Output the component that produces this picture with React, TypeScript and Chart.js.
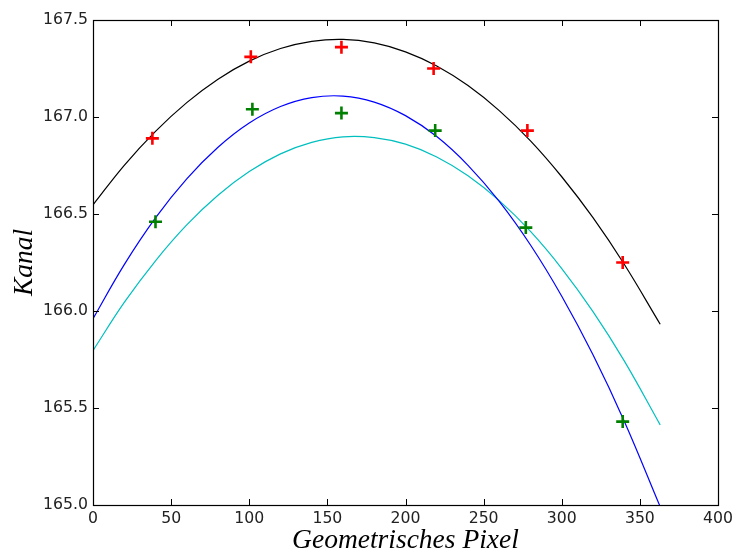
import React, { useEffect, useRef } from 'react';
import { Chart, registerables } from 'chart.js';

Chart.register(...registerables);

// Measured points (red and green crosses)
const redX = [38, 101, 159, 218, 278, 339];
const redY = [166.89, 167.31, 167.36, 167.25, 166.93, 166.25];
const greenX = [40, 102, 159, 219, 277, 339];
const greenY = [166.46, 167.04, 167.02, 166.93, 166.43, 165.43];

// Fitted curves
const curveX = [0, 20, 40, 60, 80, 100, 120, 140, 160, 180, 200, 220, 240, 260, 280, 300, 320, 340, 363];
const blackCurve = [166.547, 166.751, 166.926, 167.074, 167.195, 167.288, 167.353, 167.39, 167.4, 167.382, 167.336, 167.263, 167.162, 167.033, 166.877, 166.692, 166.481, 166.241, 165.932];
const blueCurve = [165.96, 166.239, 166.48, 166.681, 166.844, 166.969, 167.054, 167.1, 167.108, 167.077, 167.007, 166.899, 166.751, 166.565, 166.34, 166.076, 165.774, 165.432, 164.991];
const cyanCurve = [165.796, 166.044, 166.259, 166.444, 166.597, 166.719, 166.81, 166.869, 166.898, 166.894, 166.86, 166.794, 166.697, 166.569, 166.41, 166.219, 165.997, 165.743, 165.413];

const xTicks = [0, 50, 100, 150, 200, 250, 300, 350, 400];
const yTicks = [165.0, 165.5, 166.0, 166.5, 167.0, 167.5];

const xTitle = 'Geometrisches Pixel';
const yTitle = 'Kanal';

const toPts = (xs: number[], ys: number[]) => xs.map((x, i) => ({ x, y: ys[i] }));

const frameTicks = {
  id: 'frameTicks',
  afterDatasetsDraw(chart: any) {
    const { ctx, chartArea, scales } = chart;
    const { left, right, top, bottom } = chartArea;
    const len = 6;
    ctx.save();
    ctx.strokeStyle = '#000';
    ctx.lineWidth = 1;
    ctx.beginPath();
    for (const v of xTicks) {
      const px = Math.round(scales.x.getPixelForValue(v)) + 0.5;
      ctx.moveTo(px, bottom);
      ctx.lineTo(px, bottom - len);
      ctx.moveTo(px, top);
      ctx.lineTo(px, top + len);
    }
    for (const v of yTicks) {
      const py = Math.round(scales.y.getPixelForValue(v)) + 0.5;
      ctx.moveTo(left, py);
      ctx.lineTo(left + len, py);
      ctx.moveTo(right, py);
      ctx.lineTo(right - len, py);
    }
    ctx.stroke();
    ctx.lineWidth = 1.2;
    ctx.strokeRect(Math.round(left) + 0.5, Math.round(top) + 0.5, Math.round(right - left), Math.round(bottom - top));
    ctx.restore();
  },
};

export default function App() {
  const ref = useRef<HTMLCanvasElement>(null);
  useEffect(() => {
    document.body.style.margin = '0';
    const canvas = ref.current;
    if (!canvas) return;
    const tickFont = { family: 'DejaVu Sans', size: 15.7 };
    const titleFont = { family: 'Liberation Serif', size: 27.5, style: 'italic' as const, lineHeight: 1 };
    const curve = (ys: number[], color: string, order: number) => ({
      data: toPts(curveX, ys),
      showLine: true,
      borderColor: color,
      borderWidth: 1.2,
      pointRadius: 0,
      tension: 0.4,
      order,
    });
    const crosses = (xs: number[], ys: number[], color: string, order: number) => ({
      data: toPts(xs, ys),
      pointStyle: 'cross',
      pointRadius: 6.5,
      pointBorderWidth: 2.6,
      borderColor: color,
      backgroundColor: color,
      showLine: false,
      order,
    });
    const chart = new Chart(canvas, {
      type: 'scatter',
      data: {
        datasets: [
          crosses(redX, redY, '#ff0000', 0),
          crosses(greenX, greenY, '#008000', 1),
          curve(blackCurve, '#000000', 2),
          curve(blueCurve, '#0000ff', 3),
          curve(cyanCurve, '#00bfbf', 4),
        ] as any,
      },
      options: {
        responsive: false,
        animation: false,
        layout: { padding: { top: 20, right: 16, left: 0, bottom: 0 } },
        plugins: { legend: { display: false }, tooltip: { enabled: false } },
        scales: {
          x: {
            type: 'linear',
            min: 0,
            max: 400,
            afterFit: (s: any) => { s.height = 46; s.paddingLeft = 0; s.paddingRight = 0; },
            afterBuildTicks: (s: any) => { s.ticks = xTicks.map((v) => ({ value: v })); },
            grid: { display: false, drawTicks: false },
            border: { display: false },
            ticks: { font: tickFont, color: '#222', padding: 5, maxRotation: 0, callback: (v: any) => String(v) },
            title: { display: true, text: xTitle, font: titleFont, color: '#000', padding: { top: 0, bottom: -4 } },
          },
          y: {
            type: 'linear',
            min: 165,
            max: 167.5,
            afterFit: (s: any) => { s.width = 93; s.paddingTop = 0; s.paddingBottom = 0; },
            afterBuildTicks: (s: any) => { s.ticks = yTicks.map((v) => ({ value: v })); },
            grid: { display: false, drawTicks: false },
            border: { display: false },
            ticks: { font: tickFont, color: '#222', padding: 5, callback: (v: any) => Number(v).toFixed(1) },
            title: { display: true, text: yTitle, font: titleFont, color: '#000', padding: { top: 11, bottom: 0 } },
          },
        },
      } as any,
      plugins: [frameTicks],
    });
    return () => chart.destroy();
  }, []);
  return (
    <div style={{ width: 734, height: 551 }}>
      <canvas ref={ref} width={734} height={551} />
    </div>
  );
}
